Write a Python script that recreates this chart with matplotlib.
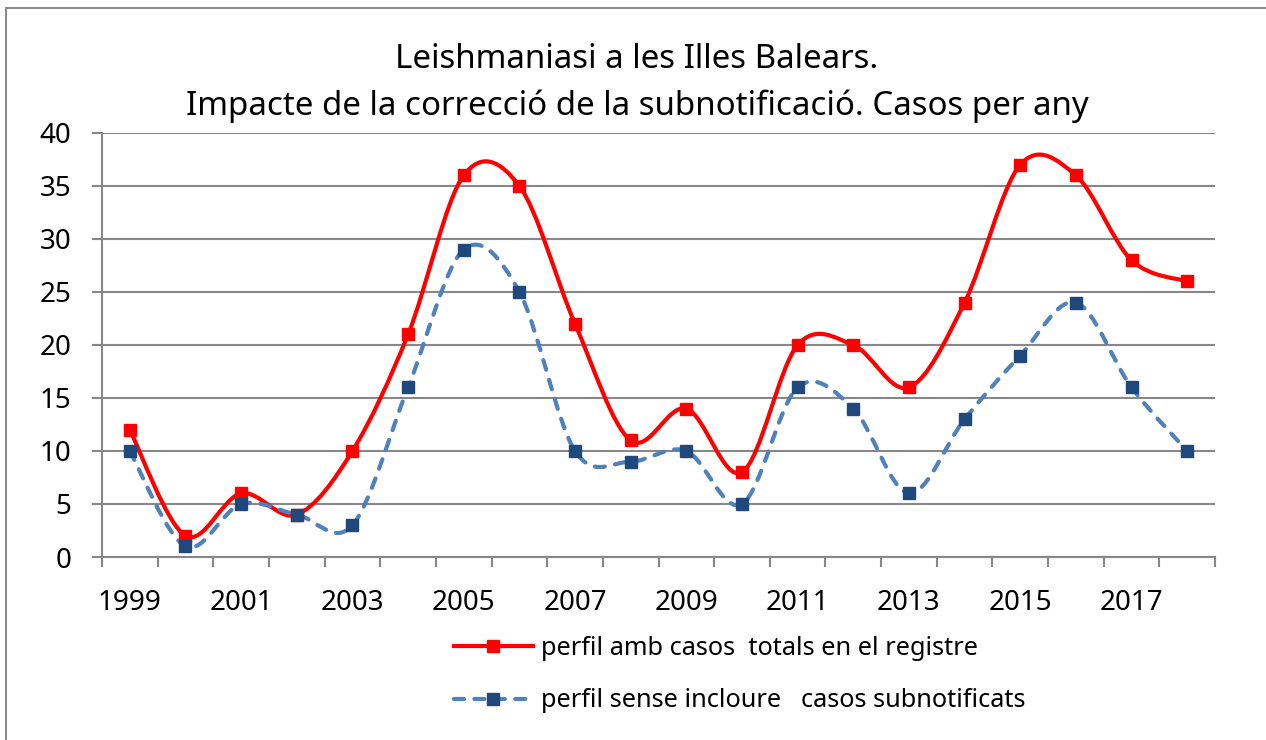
import matplotlib
matplotlib.use("Agg")
import matplotlib.pyplot as plt
from matplotlib.path import Path
from matplotlib.patches import PathPatch, Rectangle
from matplotlib.lines import Line2D
import numpy as np

plt.rcParams['font.family'] = ['Noto Sans', 'DejaVu Sans']

years = list(range(1999, 2019))
total_cases = [12, 2, 6, 4, 10, 21, 36, 35, 22, 11, 14, 8, 20, 20, 16, 24, 37, 36, 28, 26]
reported_cases = [10, 1, 5, 4, 3, 16, 29, 25, 10, 9, 10, 5, 16, 14, 6, 13, 19, 24, 16, 10]
year_labels = [str(y) for y in years[::2]]
y_ticks = [0, 5, 10, 15, 20, 25, 30, 35, 40]
title_lines = ["Leishmaniasi a les Illes Balears.",
               "Impacte de la correcció de la subnotificació. Casos per any"]
legend_labels = ["perfil amb casos  totals en el registre",
                 "perfil sense incloure   casos subnotificats"]

RED = "#FF0000"
BLUE_LINE = "#4F81BD"
BLUE_MARK = "#1F497D"
GRID = "#888888"

W, H = 1266, 740
fig = plt.figure(figsize=(W / 100, H / 100), dpi=100)
ax = fig.add_axes([102 / W, 1 - 557 / H, (1215 - 102) / W, (557 - 133) / H])


def smooth_path(xs, ys):
    pts = np.column_stack([xs, ys]).astype(float)
    n = len(pts)
    verts = [pts[0]]
    codes = [Path.MOVETO]
    for i in range(n - 1):
        p0 = pts[i - 1] if i > 0 else pts[i]
        p1 = pts[i]
        p2 = pts[i + 1]
        p3 = pts[i + 2] if i + 2 < n else pts[i + 1]
        c1 = p1 + (p2 - p0) / 6.0
        c2 = p2 - (p3 - p1) / 6.0
        verts += [c1, c2, p2]
        codes += [Path.CURVE4] * 3
    return Path(verts, codes)


x = np.arange(len(years))

red_patch = PathPatch(smooth_path(x, total_cases), fill=False, edgecolor=RED,
                      linewidth=3.0, zorder=3)
ax.add_patch(red_patch)
blue_patch = PathPatch(smooth_path(x, reported_cases), fill=False, edgecolor=BLUE_LINE,
                       linewidth=3.0, linestyle=(0, (2.4, 2.5)), capstyle='round', zorder=3)
ax.add_patch(blue_patch)

ax.plot(x, total_cases, linestyle='none', marker='s', markersize=8.5,
        color=RED, zorder=4)
ax.plot(x, reported_cases, linestyle='none', marker='s', markersize=8.5,
        color=BLUE_MARK, zorder=4)

ax.set_xlim(-0.5, len(years) - 0.5)
ax.set_ylim(0, 40)

ax.set_yticks(y_ticks)
ax.set_yticklabels([str(v) for v in y_ticks])
ax.yaxis.grid(True, color=GRID, linewidth=1.5)
ax.set_axisbelow(True)

ax.set_xticks(np.arange(-0.5, len(years), 1.0))
ax.set_xticklabels([])
ax.set_xticks(x[::2], minor=True)
ax.set_xticklabels(year_labels, minor=True)
ax.tick_params(axis='x', which='major', direction='out', length=7, width=1.5, color=GRID)
ax.tick_params(axis='x', which='minor', length=0, pad=23, labelsize=20)
ax.tick_params(axis='y', direction='out', length=7, width=1.5, color=GRID, pad=15, labelsize=20)

for s in ['top', 'right']:
    ax.spines[s].set_visible(False)
for s in ['left', 'bottom']:
    ax.spines[s].set_color(GRID)
    ax.spines[s].set_linewidth(1.5)

fig.text(637 / W, 1 - 68 / H, title_lines[0], ha='center', va='baseline', fontsize=23.8)
fig.text(637 / W, 1 - 115 / H, title_lines[1], ha='center', va='baseline', fontsize=23.8)

handles = [
    Line2D([], [], color=RED, linewidth=3.0, marker='s', markersize=8.5),
    Line2D([], [], color=BLUE_LINE, linewidth=3.0, linestyle=(0, (2.4, 2.5)),
           dash_capstyle='round', marker='s', markersize=8.5,
           markerfacecolor=BLUE_MARK, markeredgecolor=BLUE_MARK),
]
fig.legend(handles, legend_labels, loc='upper left',
           bbox_to_anchor=(441 / W, 1 - 623 / H), frameon=False, fontsize=18.2,
           handlelength=3.15, handletextpad=0.3, labelspacing=1.1, borderpad=0)

fig.patches.append(Rectangle((6 / W, -0.1), 1.2, 1 - 8 / H + 0.1, transform=fig.transFigure,
                             fill=False, edgecolor="#8c8c8c", linewidth=1.5, zorder=0))

fig.savefig("out.png", dpi=100)
